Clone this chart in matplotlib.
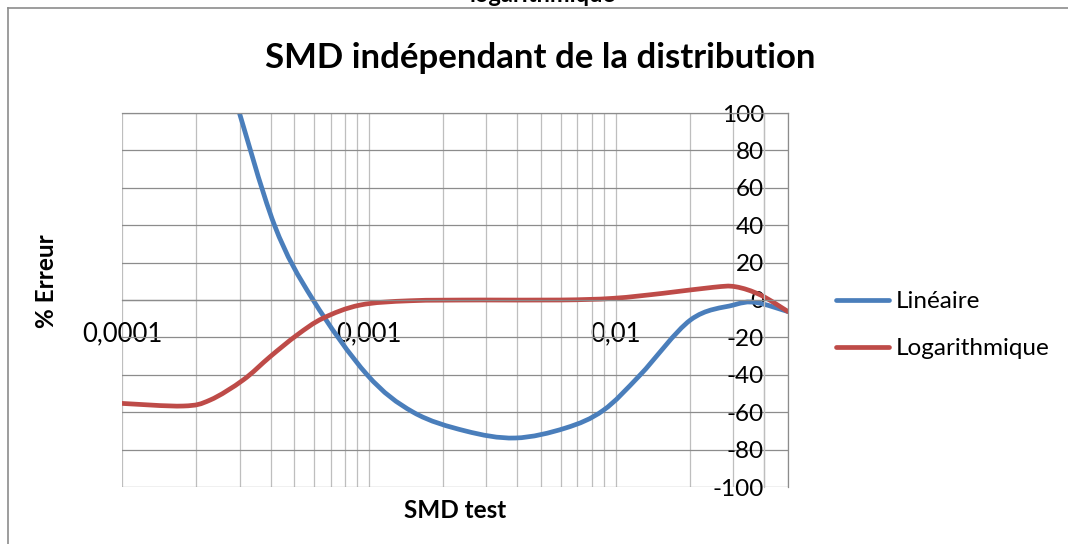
import matplotlib
matplotlib.use("Agg")
import numpy as np
import matplotlib.pyplot as plt
from matplotlib.ticker import FixedLocator, LogLocator, NullFormatter, FixedFormatter
from matplotlib.lines import Line2D
from matplotlib.path import Path
from matplotlib.patches import PathPatch

plt.rcParams["font.family"] = ["Lato", "DejaVu Sans"]

# SMD values (log axis) and percentage error for each method
smd_lin = [2.90e-4, 4.149e-4, 5.95e-4, 9.85e-4, 1.514e-3, 2.46e-3,
           3.92e-3, 6.26e-3, 8.92e-3, 1.26e-2, 2.011e-2, 3.004e-2, 3.69e-2,
           5.0e-2]
err_lin = [106, 40, 0, -40, -60, -70,
           -73.8, -68.5, -59, -40, -10.7, -2.7, -1.3,
           -6.2]

smd_log = [1.0e-4, 1.768e-4, 2.275e-4, 3.095e-4, 3.984e-4, 5.124e-4, 6.534e-4, 9.23e-4,
           1.472e-3, 2.83e-3, 5.97e-3, 9.80e-3, 1.562e-2, 2.492e-2, 3.06e-2, 3.866e-2,
           5.0e-2]
err_log = [-55.3, -56.7, -53.5, -42.8, -30.3, -18.7, -9.7, -2.7,
           -0.4, 0, 0, 0.9, 3.6, 6.8, 7.1, 2.7,
           -6.2]

x_ticks = [1e-4, 1e-3, 1e-2]
x_tick_labels = ["0,0001", "0,001", "0,01"]
y_ticks = list(range(-100, 101, 20))
y_tick_labels = [str(v) for v in y_ticks]

series_names = ["Linéaire", "Logarithmique"]
colors = ["#4A7EBB", "#BE4B48"]


def smooth_path(xs, ys):
    """Spreadsheet-style smoothed line: cubic Bezier segments through every
    point, control points taken from neighbours in (log10 x, y) space."""
    u = np.log10(np.asarray(xs, float))
    v = np.asarray(ys, float)
    n = len(u)
    verts = [(u[0], v[0])]
    codes = [Path.MOVETO]
    for i in range(n - 1):
        u0, v0 = (u[i - 1], v[i - 1]) if i > 0 else (u[i], v[i])
        u3, v3 = (u[i + 2], v[i + 2]) if i + 2 < n else (u[i + 1], v[i + 1])
        c1 = (u[i] + (u[i + 1] - u0) / 6, v[i] + (v[i + 1] - v0) / 6)
        c2 = (u[i + 1] - (u3 - u[i]) / 6, v[i + 1] - (v3 - v[i]) / 6)
        verts += [c1, c2, (u[i + 1], v[i + 1])]
        codes += [Path.CURVE4] * 3
    verts = [(10 ** a, b) for a, b in verts]
    return Path(verts, codes)


W, H = 1068, 544
fig = plt.figure(figsize=(W / 100, H / 100), dpi=100)
ax = fig.add_axes([122 / W, 1 - 487 / H, (788 - 122) / W, (487 - 113) / H])

ax.set_xscale("log")
ax.set_xlim(1e-4, 5e-2)
ax.set_ylim(-100, 100)

ax.xaxis.set_major_locator(FixedLocator(x_ticks))
ax.xaxis.set_major_formatter(FixedFormatter(x_tick_labels))
ax.xaxis.set_minor_locator(LogLocator(base=10, subs=range(2, 10)))
ax.xaxis.set_minor_formatter(NullFormatter())
ax.set_yticks(y_ticks)
ax.set_yticklabels(y_tick_labels)

# grid: vertical (major + minor) light, horizontal darker
ax.grid(True, which="both", axis="x", color="#BEBEBE", lw=0.9)
ax.grid(True, which="major", axis="y", color="#8C8C8C", lw=0.9)
ax.set_axisbelow(True)

# axes crossing: horizontal axis at 0, vertical axis at 0.04
ax.spines["bottom"].set_position(("data", 0))
ax.spines["left"].set_position(("data", 0.04))
ax.spines["bottom"].set_color("#8C8C8C")
ax.spines["left"].set_color("#BEBEBE")
for s in ("top", "right"):
    ax.spines[s].set_color("#8C8C8C")
for s in ax.spines.values():
    s.set_linewidth(0.9)

ax.tick_params(axis="x", which="both", length=0, pad=15.5, labelsize=18.5)
ax.tick_params(axis="y", which="both", length=0, pad=0, labelsize=17.5)

handles = []
for xs, ys, c in [(smd_lin, err_lin, colors[0]), (smd_log, err_log, colors[1])]:
    patch = PathPatch(smooth_path(xs, ys), facecolor="none", edgecolor=c, lw=3.4,
                      capstyle="round", joinstyle="round")
    ax.add_patch(patch)
    handles.append(Line2D([], [], color=c, lw=3.4, solid_capstyle="round"))

# axis titles
fig.text(455 / W, 1 - 510 / H, "SMD test", ha="center", va="center",
         fontsize=17.5, fontweight="bold")
fig.text(47 / W, 1 - 281 / H, "% Erreur", ha="center", va="center",
         rotation=90, fontsize=17.5, fontweight="bold")

# chart title
fig.text(540 / W, 1 - 68 / H, "SMD indépendant de la distribution", ha="center",
         va="baseline", fontsize=25, fontweight="bold")
# heading above the chart frame, partly cut by the image edge
fig.text(543 / W, 1 - 2 / H, "logarithmique", ha="center", va="baseline",
         fontsize=17, fontweight="bold")

# chart frame
fig.add_artist(Line2D([8 / W, 8 / W], [0, 1 - 8 / H], transform=fig.transFigure,
                      color="#8C8C8C", lw=1.2))
fig.add_artist(Line2D([8 / W, 1], [1 - 8 / H, 1 - 8 / H], transform=fig.transFigure,
                      color="#8C8C8C", lw=1.2))

fig.legend(handles, series_names, loc="upper left",
           bbox_to_anchor=(836 / W, 1 - 291 / H), frameon=False,
           fontsize=17.5, handlelength=2.2, handletextpad=0.25,
           labelspacing=1.08, borderaxespad=0, borderpad=0)

fig.savefig("out.png", dpi=100)
